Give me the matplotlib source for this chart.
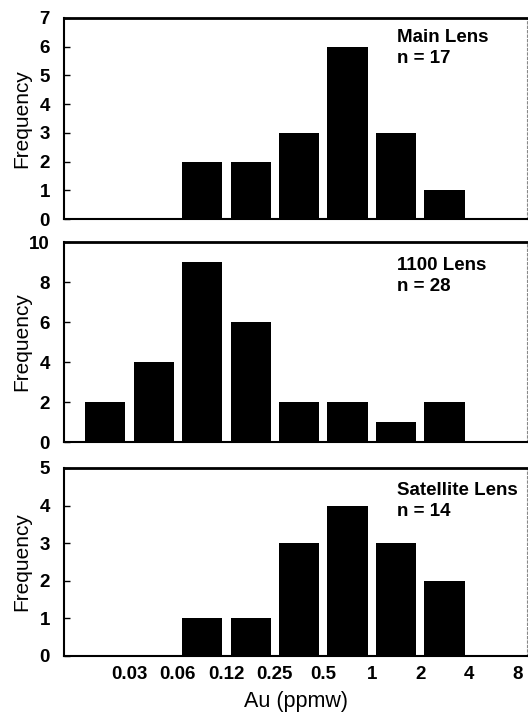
import matplotlib
matplotlib.use("Agg")
import matplotlib.pyplot as plt
import numpy as np

plt.rcParams['font.family'] = ['Liberation Sans', 'DejaVu Sans']

# Bin edges (Au, ppmw) -- labels at bin boundaries
edge_labels = ["0.03", "0.06", "0.12", "0.25", "0.5", "1", "2", "4", "8"]
bins = ["0.015-0.03", "0.03-0.06", "0.06-0.12", "0.12-0.25", "0.25-0.5",
        "0.5-1", "1-2", "2-4", "4-8"]

main_lens = [0, 0, 2, 2, 3, 6, 3, 1, 0]
lens_1100 = [2, 4, 9, 6, 2, 2, 1, 2, 0]
satellite = [0, 0, 1, 1, 3, 4, 3, 2, 0]

panels = [
    ("Main Lens", "n = 17", main_lens, 7, list(range(0, 8))),
    ("1100 Lens", "n = 28", lens_1100, 10, list(range(0, 11, 2))),
    ("Satellite Lens", "n = 14", satellite, 5, list(range(0, 6))),
]

W, H = 528, 717
fig = plt.figure(figsize=(W / 100, H / 100), dpi=100)

# axes boxes in pixels: (top, bottom)
boxes = [(18, 219), (242, 442), (468, 656)]
left_px, right_px = 64, 527

x = np.arange(len(bins)) + 0.5

for i, ((name, nlab, vals, ymax, yt), (t, b)) in enumerate(zip(panels, boxes)):
    ax = fig.add_axes([left_px / W, 1 - b / H, (right_px - left_px) / W, (b - t) / H])
    ax.bar(x, vals, width=0.83, color='black', edgecolor='black', linewidth=0)
    ax.set_xlim(-0.35, 9.2)
    ax.set_ylim(0, ymax)
    ax.set_yticks(yt)
    ax.set_yticklabels([str(v) for v in yt], fontsize=13.5, fontweight='bold')
    ax.tick_params(axis='y', direction='in', length=4, width=1, pad=10)
    ax.set_ylabel("Frequency", fontsize=15)
    ax.yaxis.set_label_coords(-0.071, 0.5)
    ax.spines['top'].set_linewidth(2.0)
    ax.spines['left'].set_linewidth(1.5)
    ax.spines['bottom'].set_linewidth(1.5)
    ax.spines['right'].set_linewidth(0.8)
    ax.spines['right'].set_color('#888888')
    ax.spines['right'].set_linestyle((0, (2, 2)))
    ax.text(0.72, 0.945 if i == 0 else 0.925, name + "\n" + nlab, transform=ax.transAxes,
            ha='left', va='top', fontsize=13.5, fontweight='bold', linespacing=1.3)
    ax.set_xticks(np.arange(1, 10))
    if i == 2:
        ax.set_xticklabels(edge_labels, fontsize=13.5, fontweight='bold')
        ax.tick_params(axis='x', length=0, pad=7)
        ax.set_xlabel("Au (ppmw)", fontsize=15.5, labelpad=6)
    else:
        ax.set_xticklabels([])
        ax.tick_params(axis='x', length=0)

fig.savefig("out.png", dpi=100)
